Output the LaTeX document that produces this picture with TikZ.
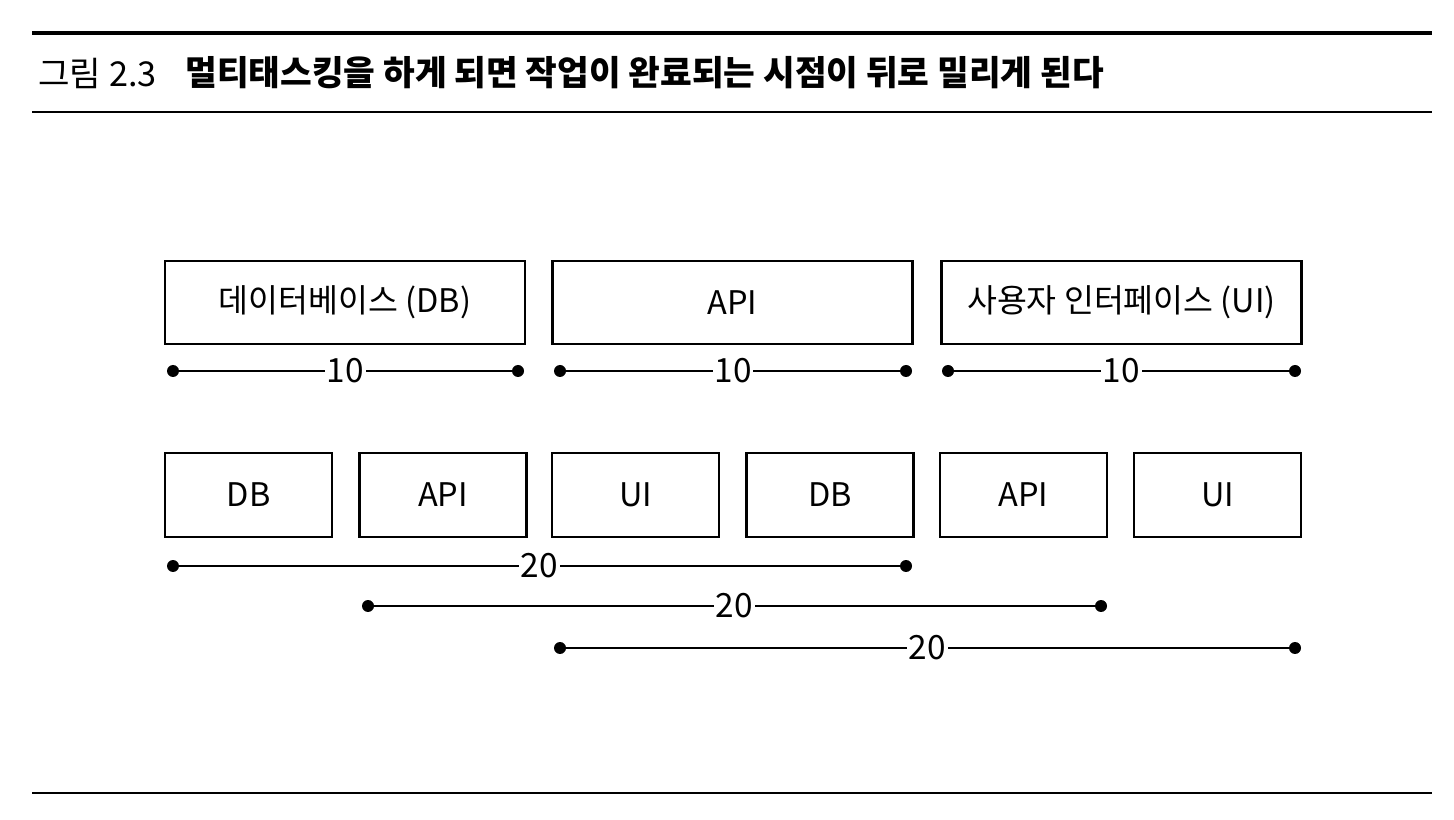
\documentclass[tikz,border=0pt]{standalone}
\usepackage{fontspec}
\setmainfont{Noto Sans CJK KR}

\begin{document}
\begin{tikzpicture}[x=0.02cm,y=-0.02cm,
        boks/.style={draw,line width=1.4pt,inner sep=0pt,font=\fontsize{18.5}{22}\selectfont},
        langboks/.style={boks,minimum width=7.2cm,minimum height=1.66cm},
        kortboks/.style={boks,minimum width=3.34cm,minimum height=1.68cm},
        maal/.style={line width=1.1pt},
        tall/.style={fill=white,inner sep=1pt,font=\fontsize{19}{22}\selectfont}]
    \useasboundingbox (0,0) rectangle (1454,820);
    %Tittel
        \draw[line width=2.2pt] (32,33)--(1432,33);
        \node[anchor=west,inner sep=0pt,font=\fontsize{19.5}{22}\selectfont] (fig) at (38,73) {그림 2.3};
        \node[anchor=west,inner sep=0pt,font=\fontsize{19.6}{22}\selectfont\bfseries] (tittel) at (185,73) {멀티태스킹을 하게 되면 작업이 완료되는 시점이 뒤로 밀리게 된다};
        \draw[line width=1pt] (32,112)--(1432,112);
        \draw[line width=1pt] (32,793)--(1432,793);
    %Bokser
        \node[langboks] (db) at (345,302.5) {데이터베이스 (DB)};
        \node[langboks] (api) at (732.5,302.5) {API};
        \node[langboks] (ui) at (1121.5,302.5) {사용자 인터페이스 (UI)};
        %
        \node[kortboks] (db1) at (248.5,495) {DB};
        \node[kortboks] (api1) at (443,495) {API};
        \node[kortboks] (ui1) at (635.5,495) {UI};
        \node[kortboks] (db2) at (830,495) {DB};
        \node[kortboks] (api2) at (1023.5,495) {API};
        \node[kortboks] (ui2) at (1217.5,495) {UI};
    %Endepunkt
        \coordinate (a1) at (173,371);
        \coordinate (a2) at (518,371);
        \coordinate (b1) at (560,371);
        \coordinate (b2) at (906,371);
        \coordinate (c1) at (948,371);
        \coordinate (c2) at (1295,371);
        \coordinate (d1) at (173,566);
        \coordinate (d2) at (906,566);
        \coordinate (e1) at (368,606);
        \coordinate (e2) at (1101,606);
        \coordinate (f1) at (560,648);
        \coordinate (f2) at (1295,648);
    %Mål
        \draw[maal] (a1)--node[tall]{10}(a2);
        \draw[maal] (b1)--node[tall]{10}(b2);
        \draw[maal] (c1)--node[tall]{10}(c2);
        \draw[maal] (d1)--node[tall]{20}(d2);
        \draw[maal] (e1)--node[tall]{20}(e2);
        \draw[maal] (f1)--node[tall]{20}(f2);
        %
        \fill (a1) circle (0.12cm);
        \fill (a2) circle (0.12cm);
        \fill (b1) circle (0.12cm);
        \fill (b2) circle (0.12cm);
        \fill (c1) circle (0.12cm);
        \fill (c2) circle (0.12cm);
        \fill (d1) circle (0.12cm);
        \fill (d2) circle (0.12cm);
        \fill (e1) circle (0.12cm);
        \fill (e2) circle (0.12cm);
        \fill (f1) circle (0.12cm);
        \fill (f2) circle (0.12cm);
\end{tikzpicture}
\end{document}
